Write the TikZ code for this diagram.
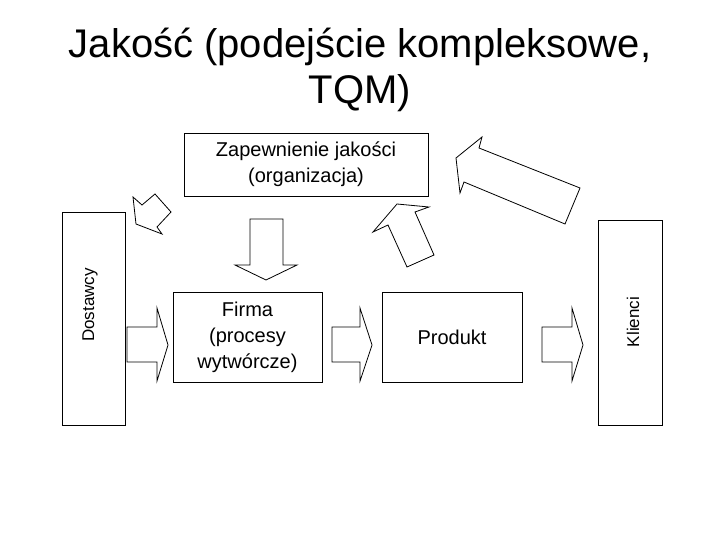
\documentclass[tikz,border=0pt]{standalone}
\usepackage{fontspec}
\setmainfont{Liberation Sans}
\begin{document}
\begin{tikzpicture}[x=1pt,y=-1pt,
  box/.style={draw,line width=0.8pt,fill=white,align=center,inner sep=0pt},
  blk/.style={draw,line width=0.8pt,fill=white,line join=miter}]
\useasboundingbox (0,0) rectangle (720,540);
\node[font=\fontsize{40}{46}\selectfont,align=center] (title) at (360,70) {Jakość (podejście kompleksowe,\\TQM)};
\node[box,minimum width=244pt,minimum height=63pt,font=\fontsize{20}{26}\selectfont] (zap) at (306,164.5) {Zapewnienie jakości\\(organizacja)};
\node[box,minimum width=63pt,minimum height=213pt] (dos) at (93.5,318.5) {};
\node[rotate=90,font=\fontsize{17}{20}\selectfont] (dost) at (90,305) {Dostawcy};
\node[box,minimum width=64pt,minimum height=205pt] (kli) at (630,322.5) {};
\node[rotate=90,font=\fontsize{17}{20}\selectfont] (klit) at (633,322) {Klienci};
\node[box,minimum width=149pt,minimum height=90pt,font=\fontsize{20}{26}\selectfont] (firma) at (247.5,337) {Firma\\(procesy\\wytwórcze)};
\node[box,minimum width=140pt,minimum height=90pt,font=\fontsize{20}{26}\selectfont] (prod) at (452,337) {Produkt};
% horizontal block arrows
\draw[blk] (127,327)--(157,327)--(157,308)--(168,345)--(157,381)--(157,362)--(127,362)--cycle;
\draw[blk] (332,327)--(360,327)--(360,308)--(372,345)--(360,381)--(360,362)--(332,362)--cycle;
\draw[blk] (542,327)--(572,327)--(572,308)--(583,345)--(572,381)--(572,362)--(542,362)--cycle;
% down arrow
\draw[blk] (250,219)--(283,219)--(283,265)--(297,265)--(266,280)--(235,265)--(250,265)--cycle;
% small arrow to Dostawcy
\draw[blk] (136,224)--(133,197)--(142,205)--(155,194)--(171,212)--(157,227)--(162,234)--cycle;
% middle up arrow
\draw[blk] (397,204)--(429,207)--(415,212)--(434,255)--(407,267)--(388,225)--(373,232)--cycle;
% big arrow from Klienci
\draw[blk] (456,158)--(482,137)--(479,148)--(580,188)--(565,224)--(464,182)--(460,193)--cycle;
\end{tikzpicture}
\end{document}
